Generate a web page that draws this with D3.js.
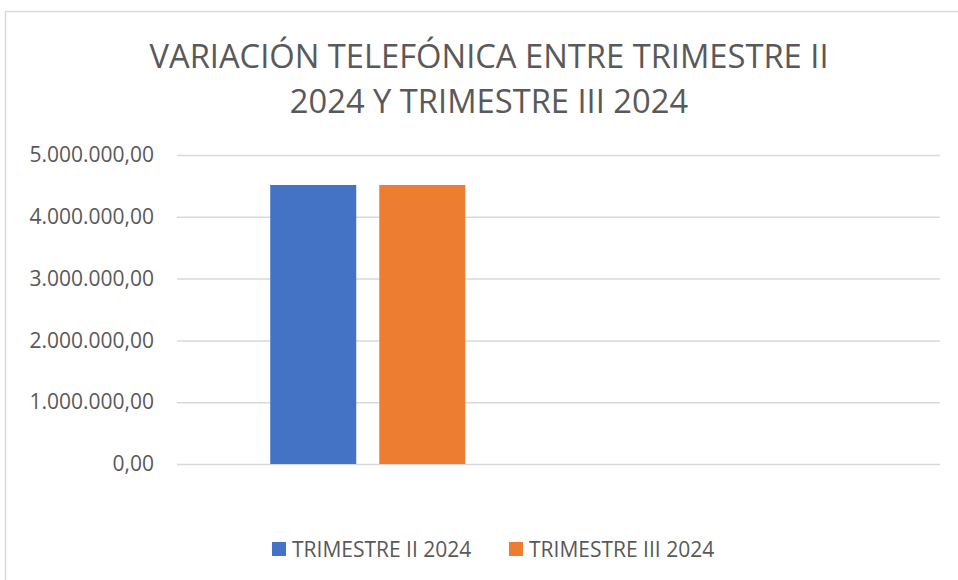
<!DOCTYPE html>
<html>
<head>
<meta charset="utf-8">
<script src="https://cdn.jsdelivr.net/npm/d3@7"></script>
<style>
  body { margin: 0; background: #fff; }
  text { font-family: "Open Sans", sans-serif; fill: #595959; }
</style>
</head>
<body>
<svg></svg>
<script>
var titleLines = ["VARIACIÓN TELEFÓNICA ENTRE TRIMESTRE II", "2024 Y TRIMESTRE III 2024"];
var categories = ["1", "2"];
var seriesNames = ["TRIMESTRE II 2024", "TRIMESTRE III 2024"];
var trimestreII = [4515000, null];
var trimestreIII = [4515000, null];
var yTicks = [0, 1000000, 2000000, 3000000, 4000000, 5000000];
var colors = ["#4472C4", "#ED7D31"];

var width = 958, height = 580;
var margin = { top: 155, right: 18, bottom: 116, left: 177 };

var svg = d3.select("svg")
    .attr("width", width)
    .attr("height", height);

// chart frame (runs off the right and bottom of the picture)
svg.append("rect")
    .attr("x", 5.5)
    .attr("y", 11.5)
    .attr("width", 1000)
    .attr("height", 1000)
    .style("fill", "none")
    .style("stroke", "#d9d9d9")
    .style("stroke-width", 1.5);

svg.selectAll(".title")
    .data(titleLines)
    .enter().append("text")
    .attr("class", "title")
    .attr("x", 489)
    .attr("y", function(d, i) { return 68 + i * 45; })
    .style("text-anchor", "middle")
    .style("font-size", "32.7px")
    .text(function(d) { return d; });

var g = svg.append("g")
    .attr("transform", "translate(" + margin.left + "," + margin.top + ")");

var w = width - margin.left - margin.right,
    h = height - margin.top - margin.bottom;

var x0 = d3.scaleBand().domain(categories).range([0, w]);
var x1 = d3.scaleBand().domain(seriesNames)
    .range([0, x0.bandwidth()])
    .paddingInner(0.211)
    .paddingOuter(0.855);

var y = d3.scaleLinear().domain([0, 5000000]).range([h, 0]);

var locale = d3.formatLocale({ decimal: ",", thousands: ".", grouping: [3], currency: ["", ""] });
var fmt = locale.format(",.2f");

var yAxis = g.append("g")
    .call(d3.axisLeft(y).tickValues(yTicks).tickSize(-w).tickPadding(23).tickFormat(fmt));
yAxis.select(".domain").remove();
yAxis.selectAll(".tick line")
    .style("stroke", "#d9d9d9")
    .style("stroke-width", 1.5);
yAxis.selectAll(".tick text")
    .style("font-size", "21px")
    .style("font-family", "'Open Sans', sans-serif")
    .style("fill", "#595959");

var series = [trimestreII, trimestreIII];
series.forEach(function(values, s) {
    var pts = categories.map(function(c, i) { return { cat: c, v: values[i] }; })
        .filter(function(d) { return d.v != null; });
    g.selectAll(".bar" + s)
        .data(pts)
        .enter().append("rect")
        .attr("class", "bar" + s)
        .attr("x", function(d) { return x0(d.cat) + x1(seriesNames[s]); })
        .attr("width", x1.bandwidth())
        .attr("y", function(d) { return y(d.v); })
        .attr("height", function(d) { return h - y(d.v); })
        .style("fill", colors[s]);
});

// legend
var legendX = [272, 509];
var legend = svg.selectAll(".legend")
    .data(seriesNames)
    .enter().append("g")
    .attr("class", "legend")
    .attr("transform", function(d, i) { return "translate(" + legendX[i] + ",542)"; });

legend.append("rect")
    .attr("width", 14)
    .attr("height", 14)
    .style("fill", function(d, i) { return colors[i]; });

legend.append("text")
    .attr("x", 20)
    .attr("y", 14.5)
    .style("font-size", "21px")
    .text(function(d) { return d; });
</script>
</body>
</html>
